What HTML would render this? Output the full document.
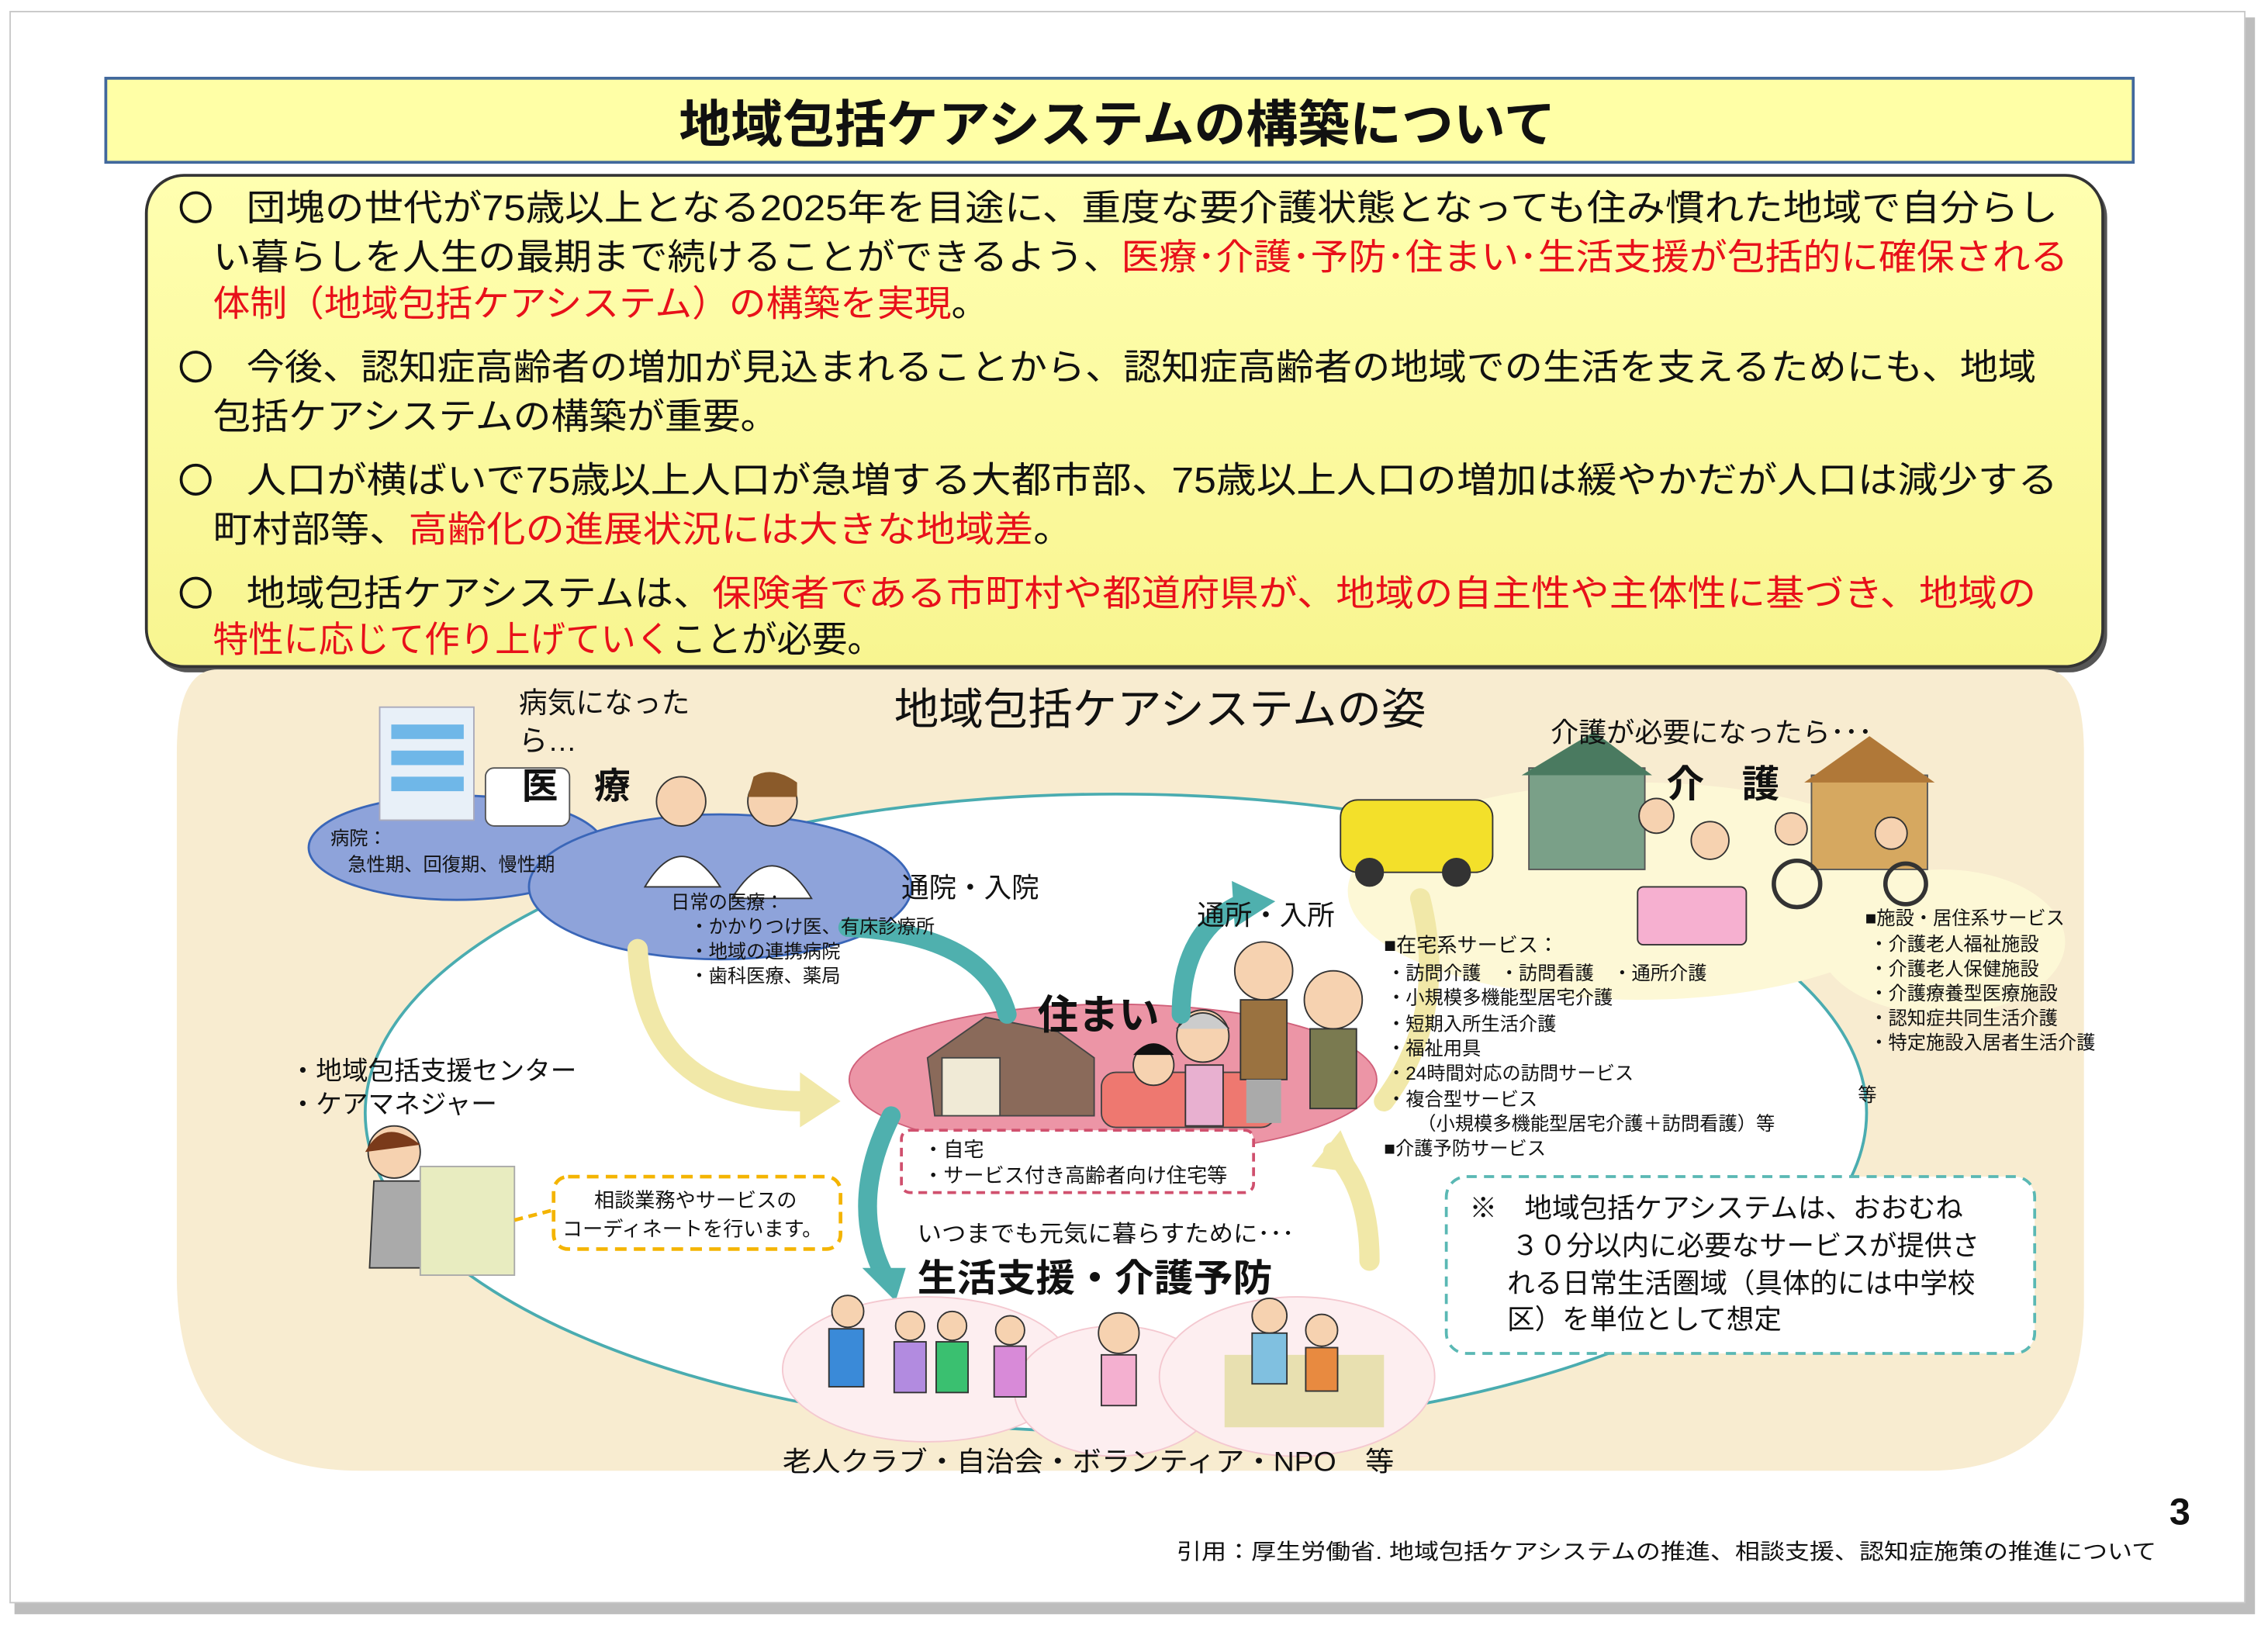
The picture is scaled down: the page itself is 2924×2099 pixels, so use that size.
<!DOCTYPE html>
<html><head><meta charset="utf-8"><style>
html,body{margin:0;padding:0;background:#fff}
svg{display:block}
text{font-family:"Liberation Sans","Noto Sans CJK JP",sans-serif;fill:#111}
.r{fill:#e8101a}
</style></head><body>
<svg width="2924" height="2099" viewBox="0 0 1565 1123.5" preserveAspectRatio="none" xmlns="http://www.w3.org/2000/svg">
<defs>
<linearGradient id="yg" x1="0" y1="0" x2="0" y2="1"><stop offset="0" stop-color="#ffffb0"/><stop offset="1" stop-color="#f8f590"/></linearGradient>
</defs>
<rect x="0" y="0" width="1565" height="1123.5" fill="#fff"/>
<rect x="10" y="12" width="1546" height="1102" fill="#bdbdbd"/>
<rect x="7" y="8" width="1542" height="1098" fill="#fff" stroke="#c8c8c8" stroke-width="1"/>
<rect x="73" y="54" width="1399" height="58" fill="#ffffa6" stroke="#41689c" stroke-width="2"/>
<text x="771" y="98" font-size="35" font-weight="bold" text-anchor="middle" textLength="605" lengthAdjust="spacingAndGlyphs">地域包括ケアシステムの構築について</text>
<rect x="104" y="124" width="1350" height="340" rx="26" fill="#555"/>
<rect x="101" y="121" width="1350" height="339" rx="26" fill="url(#yg)" stroke="#333" stroke-width="2"/>
<g fill="none" stroke="#111" stroke-width="2">
<circle cx="135" cy="143" r="10"/><circle cx="135" cy="253" r="10"/><circle cx="135" cy="331" r="10"/><circle cx="135" cy="409" r="10"/>
</g>
<g font-size="25">
<text x="170" y="152" textLength="1250" lengthAdjust="spacingAndGlyphs">団塊の世代が75歳以上となる2025年を目途に、重度な要介護状態となっても住み慣れた地域で自分らし</text>
<text x="147" y="186" textLength="1280" lengthAdjust="spacingAndGlyphs">い暮らしを人生の最期まで続けることができるよう、<tspan class="r">医療･介護･予防･住まい･生活支援が包括的に確保される</tspan></text>
<text x="147" y="218" textLength="535" lengthAdjust="spacingAndGlyphs"><tspan class="r">体制（地域包括ケアシステム）の構築を実現</tspan>。</text>
<text x="170" y="262" textLength="1235" lengthAdjust="spacingAndGlyphs">今後、認知症高齢者の増加が見込まれることから、認知症高齢者の地域での生活を支えるためにも、地域</text>
<text x="147" y="296" textLength="390" lengthAdjust="spacingAndGlyphs">包括ケアシステムの構築が重要。</text>
<text x="170" y="340" textLength="1250" lengthAdjust="spacingAndGlyphs">人口が横ばいで75歳以上人口が急増する大都市部、75歳以上人口の増加は緩やかだが人口は減少する</text>
<text x="147" y="374" textLength="593" lengthAdjust="spacingAndGlyphs">町村部等、<tspan class="r">高齢化の進展状況には大きな地域差</tspan>。</text>
<text x="170" y="418" textLength="1235" lengthAdjust="spacingAndGlyphs">地域包括ケアシステムは、<tspan class="r">保険者である市町村や都道府県が、地域の自主性や主体性に基づき、地域の</tspan></text>
<text x="147" y="450" textLength="462" lengthAdjust="spacingAndGlyphs"><tspan class="r">特性に応じて作り上げていく</tspan>ことが必要。</text>
</g>
<path d="M150 462 L1410 462 Q1438 462 1438 520 L1438 900 Q1438 1015 1330 1015 L250 1015 Q122 1015 122 880 L122 520 Q122 462 150 462 Z" fill="#f8ecd0"/>
<ellipse cx="770" cy="768" rx="518" ry="220" fill="#fff" stroke="#4aacb0" stroke-width="2"/>
<ellipse cx="1130" cy="615" rx="200" ry="75" fill="#fdf8d6"/>
<ellipse cx="1340" cy="650" rx="85" ry="50" fill="#fdf8d6"/>
<ellipse cx="315" cy="585" rx="102" ry="36" fill="#8ea3da" stroke="#3a66b8" stroke-width="1.5"/>
<ellipse cx="497" cy="612" rx="132" ry="50" fill="#8ea3da" stroke="#3a66b8" stroke-width="1.5"/>
<rect x="262" y="488" width="65" height="78" fill="#e8f0f8" stroke="#aab" />
<rect x="270" y="500" width="50" height="10" fill="#6fb7e8"/><rect x="270" y="518" width="50" height="10" fill="#6fb7e8"/><rect x="270" y="536" width="50" height="10" fill="#6fb7e8"/>
<rect x="335" y="530" width="58" height="40" rx="6" fill="#fff" stroke="#555"/>
<circle cx="470" cy="553" r="17" fill="#f6d2b0" stroke="#333"/><path d="M445 612 Q470 570 497 612 Z" fill="#fff" stroke="#333"/>
<circle cx="533" cy="553" r="17" fill="#f6d2b0" stroke="#333"/><path d="M520 536 Q533 528 550 540 L550 550 L516 550 Z" fill="#8a5a2a"/><path d="M505 620 Q533 575 560 620 Z" fill="#fff" stroke="#333"/>
<ellipse cx="768" cy="745" rx="182" ry="52" fill="#ec95a6" stroke="#d0607a" stroke-width="1"/>
<path d="M640 730 L680 702 L730 712 L755 730 L755 770 L645 770 Z" fill="#8a6a5a" stroke="#444"/>
<rect x="650" y="730" width="40" height="40" fill="#f0ead6" stroke="#444"/>
<rect x="760" y="740" width="120" height="38" rx="10" fill="#ee7870" stroke="#444"/>
<circle cx="796" cy="735" r="14" fill="#f6d2b0" stroke="#333"/><path d="M782 728 Q796 712 810 728 Z" fill="#111"/>
<circle cx="830" cy="715" r="18" fill="#f6d2b0" stroke="#333"/><path d="M812 710 Q830 688 848 710" fill="#ccc" stroke="#333"/>
<rect x="818" y="735" width="26" height="42" fill="#e8b0d0" stroke="#333"/>
<circle cx="872" cy="670" r="20" fill="#f6d2b0" stroke="#333"/><rect x="856" y="690" width="32" height="55" fill="#9a7240" stroke="#333"/><rect x="860" y="745" width="24" height="30" fill="#aaa"/>
<circle cx="920" cy="690" r="20" fill="#f6d2b0" stroke="#333"/><rect x="904" y="710" width="32" height="55" fill="#7a7a50" stroke="#333"/>
<rect x="925" y="552" width="105" height="50" rx="12" fill="#f3e02a" stroke="#333"/><circle cx="945" cy="602" r="10" fill="#333"/><circle cx="1005" cy="602" r="10" fill="#333"/>
<rect x="1055" y="530" width="80" height="70" fill="#7aa088" stroke="#555"/><path d="M1050 535 L1100 505 L1140 535 Z" fill="#4a7a60"/>
<rect x="1130" y="612" width="75" height="40" rx="4" fill="#f6b0d0" stroke="#333"/>
<circle cx="1143" cy="563" r="12" fill="#f6d2b0" stroke="#333"/><circle cx="1180" cy="580" r="13" fill="#f6d2b0" stroke="#333"/>
<rect x="1250" y="535" width="80" height="65" fill="#d6a860" stroke="#555"/><path d="M1245 540 L1290 508 L1335 540 Z" fill="#b07838"/>
<circle cx="1240" cy="610" r="16" fill="none" stroke="#333" stroke-width="3"/><circle cx="1315" cy="610" r="14" fill="none" stroke="#333" stroke-width="3"/>
<circle cx="1236" cy="572" r="11" fill="#f6d2b0" stroke="#333"/><circle cx="1305" cy="575" r="11" fill="#f6d2b0" stroke="#333"/>
<circle cx="272" cy="795" r="18" fill="#f6d2b0" stroke="#333"/><path d="M252 795 Q265 770 290 790" fill="#7a3a1a"/>
<path d="M258 815 L290 815 L300 875 L255 875 Z" fill="#aaa" stroke="#333"/>
<rect x="290" y="805" width="65" height="75" fill="#e8ecc0" stroke="#aaa"/>
<g fill="none" stroke="#4fb0ae" stroke-width="13" stroke-linecap="round">
<path d="M585 640 Q680 645 695 700"/>
<path d="M815 700 Q815 640 860 622"/>
<path d="M615 770 Q585 830 610 880"/>
</g>
<path d="M850 608 L880 622 L852 640 Z" fill="#4fb0ae"/>
<path d="M595 875 L625 875 L618 898 Z" fill="#4fb0ae"/>
<g fill="none" stroke="#f1e8a8" stroke-width="14" stroke-linecap="round">
<path d="M440 655 Q445 760 555 760"/>
<path d="M945 870 Q945 820 920 795"/>
<path d="M980 620 Q1000 700 955 760"/>
</g>
<path d="M552 740 L580 760 L552 778 Z" fill="#f1e8a8"/>
<path d="M905 805 L925 780 L938 810 Z" fill="#f1e8a8"/>
<ellipse cx="640" cy="945" rx="100" ry="50" fill="#fdeef0" stroke="#f4c8d0"/>
<ellipse cx="770" cy="960" rx="70" ry="45" fill="#fdeef0" stroke="#f4c8d0"/>
<ellipse cx="895" cy="950" rx="95" ry="55" fill="#fdeef0" stroke="#f4c8d0"/>
<rect x="845" y="935" width="110" height="50" fill="#e8e0b0"/>
<g fill="#b28be0" stroke="#333"><circle cx="585" cy="905" r="11" fill="#f6d2b0"/><rect x="572" y="917" width="24" height="40" fill="#3a8ad8"/>
<circle cx="628" cy="915" r="10" fill="#f6d2b0"/><rect x="617" y="926" width="22" height="35"/>
<circle cx="657" cy="915" r="10" fill="#f6d2b0"/><rect x="646" y="926" width="22" height="35" fill="#3ac070"/>
<circle cx="697" cy="918" r="10" fill="#f6d2b0"/><rect x="686" y="929" width="22" height="35" fill="#d88ad8"/>
<circle cx="772" cy="920" r="14" fill="#f6d2b0"/><rect x="760" y="935" width="24" height="35" fill="#f4b0d0"/>
<circle cx="876" cy="908" r="12" fill="#f6d2b0"/><rect x="864" y="920" width="24" height="35" fill="#80c0e0"/>
<circle cx="912" cy="918" r="11" fill="#f6d2b0"/><rect x="901" y="930" width="22" height="30" fill="#e88a40"/></g>
<rect x="382" y="812" width="198" height="50" rx="10" fill="#fff" stroke="#f4b400" stroke-width="2.5" stroke-dasharray="8 5"/>
<path d="M355 842 L382 835" stroke="#f4b400" stroke-width="2.5" stroke-dasharray="6 4"/>
<rect x="622" y="780" width="243" height="43" rx="6" fill="#fff" stroke="#d0506e" stroke-width="2" stroke-dasharray="6 4"/>
<rect x="998" y="812" width="406" height="122" rx="14" fill="#fff" stroke="#5ab8b4" stroke-width="2" stroke-dasharray="7 5"/>
<text x="617" y="500" font-size="30" textLength="367" lengthAdjust="spacingAndGlyphs">地域包括ケアシステムの姿</text>
<text x="358" y="492" font-size="20" textLength="118" lengthAdjust="spacingAndGlyphs">病気になった</text>
<text x="358" y="518" font-size="20">ら…</text>
<text x="360" y="551" font-size="25" font-weight="bold">医　療</text>
<g font-size="13"><text x="228" y="583">病院：</text><text x="240" y="601">急性期、回復期、慢性期</text>
<text x="463" y="627">日常の医療：</text><text x="476" y="644">・かかりつけ医、有床診療所</text><text x="476" y="661">・地域の連携病院</text><text x="476" y="678">・歯科医療、薬局</text></g>
<text x="622" y="619" font-size="19">通院・入院</text>
<text x="826" y="638" font-size="19">通所・入所</text>
<text x="716" y="710" font-size="28" font-weight="bold">住まい</text>
<text x="1070" y="512" font-size="19" textLength="222" lengthAdjust="spacingAndGlyphs">介護が必要になったら･･･</text>
<text x="1150" y="550" font-size="26" font-weight="bold">介　護</text>
<g font-size="13">
<text x="955" y="657" font-size="14">■在宅系サービス：</text>
<text x="957" y="676">・訪問介護　・訪問看護　・通所介護</text>
<text x="957" y="693">・小規模多機能型居宅介護</text>
<text x="957" y="711">・短期入所生活介護</text>
<text x="957" y="728">・福祉用具</text>
<text x="957" y="745">・24時間対応の訪問サービス</text>
<text x="957" y="763">・複合型サービス</text>
<text x="978" y="780">（小規模多機能型居宅介護＋訪問看護）等</text>
<text x="955" y="797">■介護予防サービス</text>
<text x="1287" y="638">■施設・居住系サービス</text>
<text x="1290" y="656">・介護老人福祉施設</text>
<text x="1290" y="673">・介護老人保健施設</text>
<text x="1290" y="690">・介護療養型医療施設</text>
<text x="1290" y="707">・認知症共同生活介護</text>
<text x="1290" y="724">・特定施設入居者生活介護</text>
<text x="1282" y="760">等</text>
</g>
<text x="200" y="745" font-size="18">・地域包括支援センター</text>
<text x="200" y="768" font-size="18">・ケアマネジャー</text>
<text x="410" y="833" font-size="14">相談業務やサービスの</text>
<text x="388" y="853" font-size="14">コーディネートを行います。</text>
<text x="637" y="798" font-size="14">・自宅</text>
<text x="637" y="816" font-size="14">・サービス付き高齢者向け住宅等</text>
<text x="633" y="857" font-size="16" textLength="260" lengthAdjust="spacingAndGlyphs">いつまでも元気に暮らすために･･･</text>
<text x="633" y="891" font-size="26" font-weight="bold" textLength="245" lengthAdjust="spacingAndGlyphs">生活支援・介護予防</text>
<g font-size="19"><text x="1014" y="840">※　地域包括ケアシステムは、おおむね</text>
<text x="1043" y="866">３０分以内に必要なサービスが提供さ</text>
<text x="1040" y="892">れる日常生活圏域（具体的には中学校</text>
<text x="1040" y="917">区）を単位として想定</text></g>
<text x="540" y="1015" font-size="19" textLength="422" lengthAdjust="spacingAndGlyphs">老人クラブ・自治会・ボランティア・NPO　等</text>
<text x="1497" y="1052" font-size="26" font-weight="bold">3</text>
<text x="812" y="1076" font-size="15" textLength="676" lengthAdjust="spacingAndGlyphs">引用：厚生労働省. 地域包括ケアシステムの推進、相談支援、認知症施策の推進について</text>
</svg>
</body></html>
